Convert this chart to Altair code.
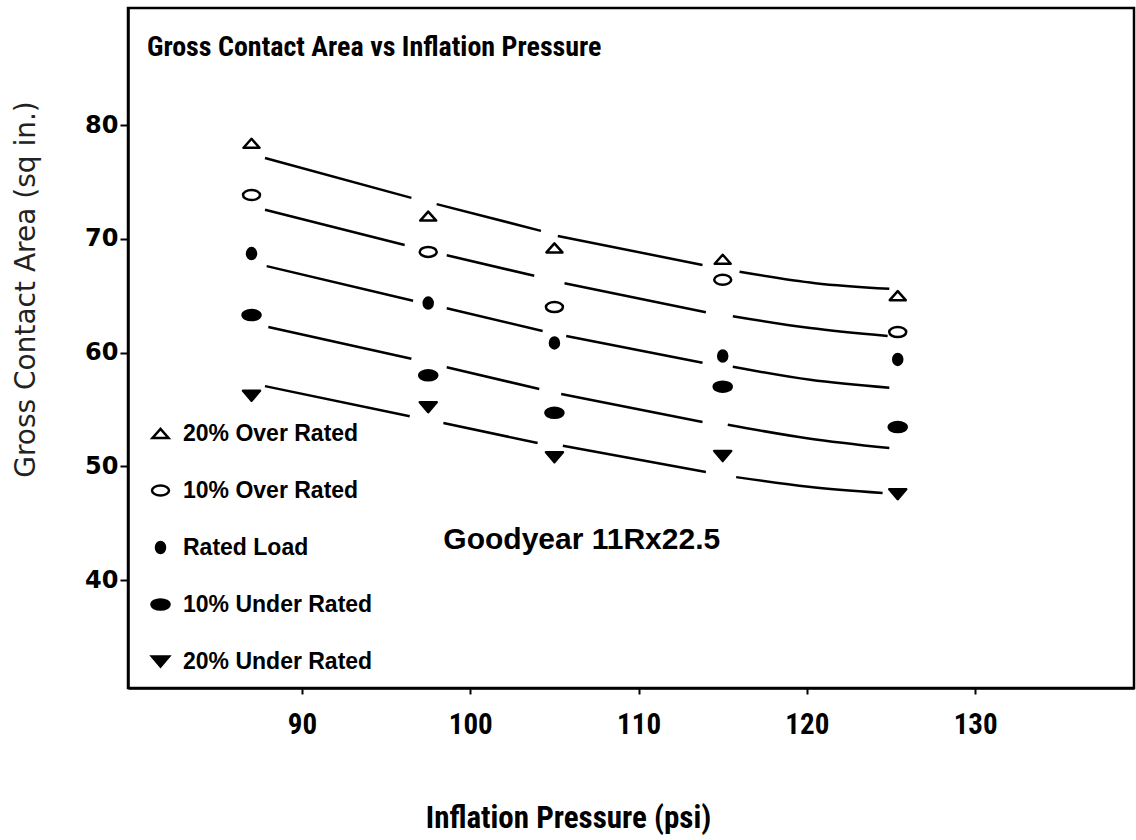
import altair as alt
import pandas as pd

# ---------------- data ----------------
series = ["20% Over Rated", "10% Over Rated", "Rated Load", "10% Under Rated", "20% Under Rated"]
pressure = [87.0, 97.5, 105.0, 115.0, 125.4]

area_over20 = [78.4, 72.0, 69.2, 68.2, 65.0]
area_over10 = [73.85, 68.85, 64.0, 66.4, 61.8]
area_rated = [68.7, 64.35, 60.85, 59.7, 59.4]
area_under10 = [63.3, 58.0, 54.7, 57.0, 53.45]
area_under20 = [56.2, 55.2, 50.8, 50.9, 47.55]

# fitted curves (drawn as broken segments between the measured pressures)
curve_seg = [1, 1, 2, 2, 3, 3, 4, 4, 4]
curve_over20_x = [87.8, 96.5, 98.0, 104.2, 105.2, 113.8, 116.0, 120.5, 124.9]
curve_over20_y = [77.1, 73.6, 73.05, 70.7, 70.25, 67.7, 67.1, 66.1, 65.6]
curve_over10_x = [87.8, 96.1, 98.6, 103.8, 105.6, 114.0, 115.6, 120.2, 124.8]
curve_over10_y = [72.55, 69.45, 68.55, 66.75, 66.1, 63.55, 63.2, 62.15, 61.45]
curve_rated_x = [87.9, 96.6, 98.6, 104.3, 105.7, 113.8, 115.6, 120.2, 124.9]
curve_rated_y = [67.6, 64.55, 63.9, 61.9, 61.45, 59.1, 58.75, 57.6, 56.9]
curve_under10_x = [88.0, 96.5, 98.6, 104.1, 105.4, 113.8, 115.3, 120.1, 124.9]
curve_under10_y = [62.25, 59.45, 58.7, 56.8, 56.35, 53.9, 53.65, 52.45, 51.6]
curve_under20_x = [87.8, 96.4, 98.4, 104.0, 105.5, 114.0, 115.8, 120.1, 124.5]
curve_under20_y = [57.05, 54.4, 53.8, 52.05, 51.8, 49.5, 49.05, 48.2, 47.65]

x_ticks = [90, 100, 110, 120, 130]
y_ticks = [40, 50, 60, 70, 80]

note_text = ["Goodyear 11Rx22.5"]
note_x = [98.4]
note_y = [42.7]

title_text = ["Gross Contact Area vs Inflation Pressure"]

# ---------------- styles ----------------
shape_paths = [
    "M-0.8,0.45L0.8,0.45L0,-0.45Z",
    "M-0.85,0A0.85,0.5,0,1,1,0.85,0A0.85,0.5,0,1,1,-0.85,0Z",
    "M-0.45,0A0.45,0.55,0,1,1,0.45,0A0.45,0.55,0,1,1,-0.45,0Z",
    "M-0.9,0A0.9,0.5,0,1,1,0.9,0A0.9,0.5,0,1,1,-0.9,0Z",
    "M-0.85,-0.5L0.85,-0.5L0,0.5Z",
]
fill_colors = ["white", "white", "black", "black", "black"]
stroke_colors = ["black"] * 5

CONDENSED = "Roboto Condensed, Liberation Sans Narrow"
SANS = "Liberation Sans, Arial, sans-serif"
WIDE = "DejaVu Sans, Verdana, sans-serif"

# ---------------- tables ----------------
area_lists = [area_over20, area_over10, area_rated, area_under10, area_under20]
pts = pd.DataFrame(
    [
        {"x": px, "y": py, "series": s}
        for s, vals in zip(series, area_lists)
        for px, py in zip(pressure, vals)
    ]
)

curve_lists = [
    (curve_over20_x, curve_over20_y),
    (curve_over10_x, curve_over10_y),
    (curve_rated_x, curve_rated_y),
    (curve_under10_x, curve_under10_y),
    (curve_under20_x, curve_under20_y),
]
curves = pd.DataFrame(
    [
        {"x": cx, "y": cy, "series": s, "seg": f"{s}-{g}", "order": i}
        for s, (xs, ys) in zip(series, curve_lists)
        for i, (cx, cy, g) in enumerate(zip(xs, ys, curve_seg))
    ]
)

notes = pd.DataFrame({"x": note_x, "y": note_y, "label": note_text})
titles = pd.DataFrame({"label": title_text})

# ---------------- encodings ----------------
x_enc = alt.X(
    "x:Q",
    scale=alt.Scale(domain=[79.66, 139.44], nice=False, zero=False),
    axis=alt.Axis(
        values=x_ticks,
        title="Inflation Pressure (psi)",
        grid=False,
        labelFont=CONDENSED,
        labelFontSize=29,
        labelFontWeight="bold",
        labelColor="black",
        labelPadding=16,
        tickSize=6,
        tickWidth=2,
        tickColor="black",
        domainColor="black",
        domainWidth=2.5,
        titleFont=CONDENSED,
        titleFontSize=31,
        titleFontWeight="bold",
        titleColor="black",
        titleX=440,
        titleY=130,
        titleAlign="center",
        titleBaseline="middle",
    ),
)
y_enc = alt.Y(
    "y:Q",
    scale=alt.Scale(domain=[30.51, 90.29], nice=False, zero=False),
    axis=alt.Axis(
        values=y_ticks,
        title="Gross Contact Area (sq in.)",
        grid=False,
        labelFont=WIDE,
        labelFontSize=24,
        labelFontWeight="bold",
        labelColor="black",
        labelPadding=2,
        tickSize=8,
        tickWidth=2,
        tickColor="black",
        domainColor="black",
        domainWidth=2.5,
        titleFont=WIDE,
        titleFontSize=28,
        titleFontWeight="normal",
        titleColor="#222222",
        titleAngle=270,
        titleX=-102,
        titleY=281,
        titleAlign="center",
        titleBaseline="middle",
    ),
)

legend = alt.Legend(
    title=None,
    orient="none",
    legendX=21,
    legendY=414,
    padding=0,
    symbolSize=400,
    symbolStrokeWidth=2.5,
    symbolStrokeColor="black",
    symbolOpacity=1,
    labelFont=SANS,
    labelFontSize=23,
    labelFontWeight="bold",
    labelColor="black",
    labelOffset=11,
    labelLimit=0,
    rowPadding=33,
)

lines = (
    alt.Chart(curves)
    .mark_line(color="black", strokeWidth=2.5, interpolate="monotone")
    .encode(x=x_enc, y=y_enc, detail="seg:N", order="order:Q")
)

points = (
    alt.Chart(pts)
    .mark_point(size=400, strokeWidth=2.5, opacity=1, strokeJoin="round")
    .encode(
        x=x_enc,
        y=y_enc,
        shape=alt.Shape("series:N", scale=alt.Scale(domain=series, range=shape_paths), legend=legend),
        fill=alt.Fill("series:N", scale=alt.Scale(domain=series, range=fill_colors), legend=legend),
        stroke=alt.Stroke("series:N", scale=alt.Scale(domain=series, range=stroke_colors), legend=legend),
    )
)

note = (
    alt.Chart(notes)
    .mark_text(align="left", baseline="alphabetic", font=SANS, fontSize=30, fontWeight="bold", color="black")
    .encode(x=x_enc, y=y_enc, text="label:N")
)

title = (
    alt.Chart(titles)
    .mark_text(align="left", baseline="alphabetic", font=CONDENSED, fontSize=28, fontWeight="bold", color="black")
    .encode(x=alt.value(19), y=alt.value(48), text="label:N")
)

chart = (
    alt.layer(lines, points, note, title)
    .properties(
        width=1006,
        height=680,
        padding={"left": 128, "top": 8, "right": 2, "bottom": 152},
        autosize=alt.AutoSizeParams(type="none"),
        background="white",
    )
    .configure_view(stroke="black", strokeWidth=2.5)
)

chart.save("out.html", embed_options={"renderer": "svg", "actions": False})
